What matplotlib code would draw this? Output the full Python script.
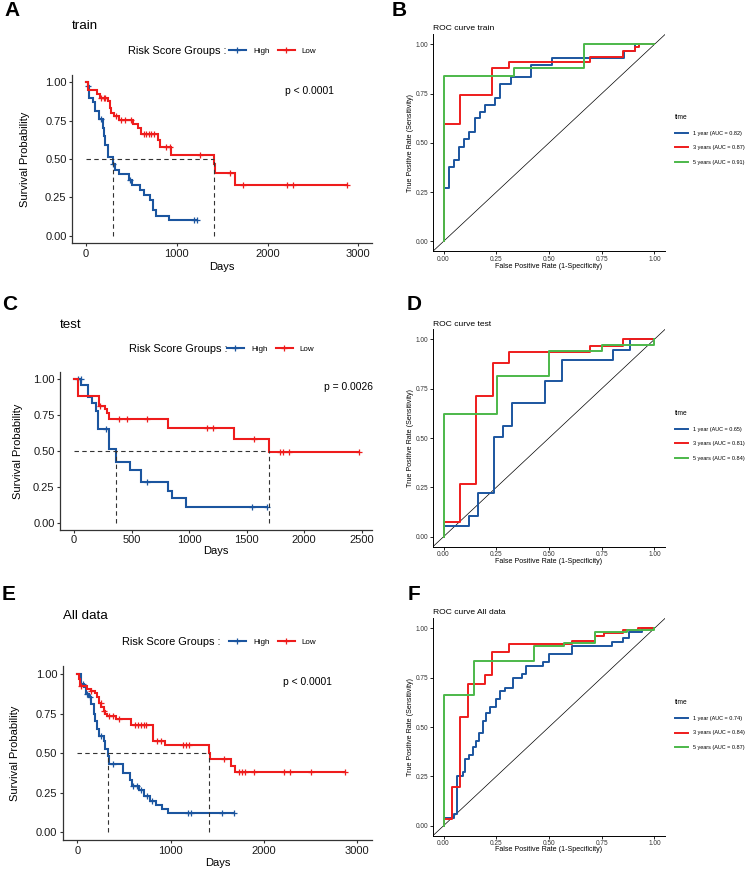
import numpy as np
import matplotlib
matplotlib.use("Agg")
import matplotlib.pyplot as plt
from matplotlib.lines import Line2D

plt.rcParams['font.family'] = ['Liberation Sans', 'DejaVu Sans']

W, H = 749, 872
BLUE = '#1b559f'
RED = '#ee1c1c'
GREEN = '#4cb84a'

# ---------------- KM data (time in days, survival after each step) ----------------
# train
train_high_t = [0, 20, 30, 75, 100, 140, 185, 195, 215, 240, 297, 320, 360, 470, 510, 590, 640, 700, 740, 775, 911]
train_high_s = [1.0, 0.975, 0.90, 0.87, 0.815, 0.76, 0.70, 0.65, 0.59, 0.51, 0.47, 0.43, 0.40, 0.363, 0.33, 0.30, 0.265, 0.23, 0.165, 0.13, 0.10]
train_high_end = 1223
train_high_cens = [25, 170, 300, 480, 1190, 1223]

train_low_t = [0, 22, 121, 150, 242, 260, 279, 305, 360, 514, 573, 606, 793, 819, 940, 1406, 1425, 1638]
train_low_s = [1.0, 0.952, 0.925, 0.90, 0.875, 0.83, 0.80, 0.78, 0.755, 0.725, 0.70, 0.66, 0.625, 0.575, 0.524, 0.47, 0.41, 0.33]
train_low_end = 2875
train_low_cens = [170, 200, 215, 330, 389, 433, 500, 635, 661, 690, 720, 745, 885, 922, 1252, 1590, 1730, 2214, 2277, 2875]

# test
test_high_t = [0, 60, 120, 160, 190, 210, 300, 365, 490, 580, 820, 850, 975]
test_high_s = [1.0, 0.958, 0.875, 0.83, 0.78, 0.65, 0.51, 0.42, 0.37, 0.28, 0.22, 0.17, 0.11]
test_high_end = 1674
test_high_cens = [38, 58, 275, 637, 1544, 1674]

test_low_t = [0, 32, 215, 269, 284, 307, 820, 1390, 1692]
test_low_s = [1.0, 0.885, 0.81, 0.79, 0.765, 0.72, 0.66, 0.585, 0.49]
test_low_end = 2480
test_low_cens = [230, 394, 458, 637, 1153, 1211, 1567, 1790, 1813, 1871, 2480]

# all data
all_high_t = [0, 43, 68, 93, 122, 150, 175, 193, 211, 236, 283, 300, 329, 345, 486, 568, 590, 660, 720, 780, 840, 910, 975]
all_high_s = [1.0, 0.94, 0.92, 0.875, 0.854, 0.81, 0.75, 0.707, 0.654, 0.611, 0.58, 0.527, 0.48, 0.432, 0.375, 0.33, 0.29, 0.265, 0.23, 0.20, 0.17, 0.145, 0.124]
all_high_end = 1680
all_high_cens = [60, 100, 140, 250, 380, 600, 640, 680, 750, 800, 1190, 1220, 1550, 1680]

all_low_t = [0, 15, 25, 104, 150, 193, 211, 229, 258, 283, 293, 318, 410, 580, 810, 945, 1407, 1425, 1650, 1693]
all_low_s = [1.0, 0.97, 0.925, 0.907, 0.895, 0.88, 0.854, 0.816, 0.795, 0.77, 0.75, 0.735, 0.72, 0.68, 0.58, 0.555, 0.50, 0.463, 0.42, 0.38]
all_low_end = 2872
all_low_cens = [40, 150, 250, 290, 340, 380, 450, 620, 650, 680, 710, 740, 850, 900, 1130, 1160, 1200,
                1570, 1730, 1760, 1800, 1890, 2220, 2280, 2500, 2872]

# ---------------- ROC data (FPR, TPR corners) ----------------
roc_train_1y_fpr = [0, 0, 0.026, 0.05, 0.074, 0.098, 0.121, 0.148, 0.172, 0.196, 0.244, 0.267, 0.318, 0.415, 0.513, 0.855, 0.907, 1.0]
roc_train_1y_tpr = [0, 0.27, 0.376, 0.413, 0.48, 0.519, 0.556, 0.624, 0.658, 0.694, 0.726, 0.798, 0.832, 0.897, 0.93, 0.965, 1.0, 1.0]
roc_train_3y_fpr = [0, 0, 0.077, 0.231, 0.312, 0.696, 0.852, 0.91, 0.926, 1.0]
roc_train_3y_tpr = [0, 0.595, 0.744, 0.88, 0.908, 0.934, 0.964, 0.988, 1.0, 1.0]
roc_train_5y_fpr = [0, 0, 0.333, 0.667, 1.0]
roc_train_5y_tpr = [0, 0.84, 0.88, 1.0, 1.0]

roc_test_1y_fpr = [0, 0, 0.121, 0.161, 0.24, 0.283, 0.323, 0.482, 0.561, 0.804, 0.883, 1.0]
roc_test_1y_tpr = [0, 0.052, 0.106, 0.221, 0.503, 0.559, 0.677, 0.79, 0.895, 0.947, 1.0, 1.0]
roc_test_3y_fpr = [0, 0, 0.077, 0.153, 0.233, 0.312, 0.696, 0.852, 1.0]
roc_test_3y_tpr = [0, 0.073, 0.267, 0.714, 0.878, 0.937, 0.968, 1.0, 1.0]
roc_test_5y_fpr = [0, 0, 0.252, 0.502, 0.752, 1.0, 1.0]
roc_test_5y_tpr = [0, 0.621, 0.816, 0.942, 0.971, 0.971, 1.0]

roc_all_1y_fpr = [0, 0, 0.05, 0.065, 0.09, 0.10, 0.12, 0.14, 0.155, 0.17, 0.185, 0.20, 0.22, 0.25, 0.27, 0.29,
                  0.33, 0.37, 0.39, 0.47, 0.50, 0.61, 0.80, 0.85, 0.88, 0.94, 1.0]
roc_all_1y_tpr = [0, 0.04, 0.06, 0.25, 0.27, 0.34, 0.36, 0.40, 0.43, 0.47, 0.53, 0.57, 0.60, 0.64, 0.68, 0.70,
                  0.75, 0.77, 0.81, 0.83, 0.87, 0.91, 0.93, 0.95, 0.98, 1.0, 1.0]
roc_all_3y_fpr = [0, 0, 0.039, 0.079, 0.118, 0.197, 0.232, 0.308, 0.61, 0.72, 0.76, 0.85, 0.92, 1.0]
roc_all_3y_tpr = [0, 0.034, 0.194, 0.552, 0.718, 0.764, 0.882, 0.921, 0.935, 0.962, 0.975, 0.99, 1.0, 1.0]
roc_all_5y_fpr = [0, 0, 0.144, 0.431, 0.572, 0.72, 0.87, 1.0]
roc_all_5y_tpr = [0, 0.66, 0.832, 0.909, 0.925, 0.981, 0.99, 1.0]

auc_train = ['0.82', '0.87', '0.91']
auc_test = ['0.65', '0.81', '0.84']
auc_all = ['0.74', '0.84', '0.87']
year_labels = ['1 year', '3 years', '5 years']


def fx(x):
    return x / W


def fy(y):
    return 1 - y / H


def px_rect(l, t, r, b):
    return [l / W, 1 - b / H, (r - l) / W, (b - t) / H]


def surv_at(t, s, times):
    idx = np.searchsorted(np.asarray(t), np.asarray(times), side='right') - 1
    return np.asarray(s)[idx]


def median_time(t, s):
    idx = np.where(np.asarray(s) <= 0.5)[0]
    return t[idx[0]] if len(idx) else None


def km_panel(fig, rect, xlim, xticks, groups, info):
    ax = fig.add_axes(rect)
    meds = []
    for t, s, end, cens, col in groups:
        tt = list(t) + [end]
        ss = list(s) + [s[-1]]
        ax.plot(tt, ss, drawstyle='steps-post', color=col, lw=1.5, solid_joinstyle='miter')
        ax.plot(cens, surv_at(t, s, cens), ls='none', marker='+', ms=4.2, mew=0.9, color=col)
        m = median_time(t, s)
        if m is not None:
            meds.append(m)
    # median lines
    ax.plot([0, max(meds)], [0.5, 0.5], ls=(0, (4, 3)), color='#333333', lw=0.8)
    for m in meds:
        ax.plot([m, m], [0, 0.5], ls=(0, (4, 3)), color='#333333', lw=0.8)
    ax.set_xlim(*xlim)
    ax.set_ylim(-0.05, 1.05)
    ax.set_xticks(xticks)
    ax.set_yticks([0, 0.25, 0.5, 0.75, 1.0])
    ax.set_yticklabels(['0.00', '0.25', '0.50', '0.75', '1.00'])
    for sp in ['top', 'right']:
        ax.spines[sp].set_visible(False)
    for sp in ['left', 'bottom']:
        ax.spines[sp].set_linewidth(0.9)
        ax.spines[sp].set_color('#333333')
    ax.tick_params(axis='both', labelsize=8, length=2.4, width=0.8, color='#333333',
                   labelcolor='#1a1a1a', pad=1.5)

    # text
    l, t_, r, b = info['box']
    fig.text(fx(info['letter_xy'][0]), fy(info['letter_xy'][1]), info['letter'],
             fontsize=15, fontweight='bold', ha='left', va='baseline')
    fig.text(fx(l), fy(info['title_y']), info['title'], fontsize=9.6, ha='left', va='baseline')
    fig.text(fx((l + r) / 2), fy(info['xlab_y']), 'Days', fontsize=8, ha='center', va='center')
    fig.text(fx(info['ylab_x']), fy((t_ + b) / 2), 'Survival Probability', fontsize=8,
             ha='center', va='center', rotation=90)
    fig.text(fx(info['p_xy'][0]), fy(info['p_xy'][1]), info['p'], fontsize=7.4, ha='left', va='center')

    # legend
    ly = info['leg_y']
    fig.text(fx(info['leg_x']), fy(ly), 'Risk Score Groups :', fontsize=7.9, ha='left', va='center')
    handles = [Line2D([], [], color=BLUE, lw=1.5, marker='+', ms=4.2, mew=0.9),
               Line2D([], [], color=RED, lw=1.5, marker='+', ms=4.2, mew=0.9)]
    ax.legend(handles, ['High', 'Low'], ncol=2, frameon=False, fontsize=5.8,
              loc='center left', bbox_to_anchor=(fx(info['leg_x2']), fy(ly)),
              bbox_transform=fig.transFigure, handlelength=2.1, handletextpad=0.9,
              columnspacing=1.0, borderpad=0, borderaxespad=0)
    return ax


def roc_panel(fig, rect, curves, aucs, info):
    ax = fig.add_axes(rect)
    ax.axline((0, 0), (1, 1), color='black', lw=0.5)
    cols = [BLUE, RED, GREEN]
    handles = []
    for (fpr, tpr), col in zip(curves, cols):
        ln, = ax.plot(fpr, tpr, drawstyle='steps-post', color=col, lw=1.4)
        handles.append(Line2D([], [], color=col, lw=1.4))
    ax.set_xlim(-0.05, 1.05)
    ax.set_ylim(-0.05, 1.05)
    ticks = [0, 0.25, 0.5, 0.75, 1.0]
    labels = ['0.00', '0.25', '0.50', '0.75', '1.00']
    ax.set_xticks(ticks)
    ax.set_xticklabels(labels)
    ax.set_yticks(ticks)
    ax.set_yticklabels(labels)
    for sp in ['top', 'right']:
        ax.spines[sp].set_visible(False)
    for sp in ['left', 'bottom']:
        ax.spines[sp].set_linewidth(0.7)
    ax.tick_params(axis='both', labelsize=4.7, length=2, width=0.6, labelcolor='#333333', pad=1.2)

    l, t_, r, b = info['box']
    fig.text(fx(info['letter_xy'][0]), fy(info['letter_xy'][1]), info['letter'],
             fontsize=15, fontweight='bold', ha='left', va='baseline')
    fig.text(fx(l), fy(info['title_y']), info['title'], fontsize=6.1, ha='left', va='baseline')
    fig.text(fx(549), fy(info['xlab_y']), 'False Positive Rate (1-Specificity)', fontsize=5.1,
             ha='center', va='center')
    fig.text(fx(411), fy((t_ + b) / 2), 'True Positive Rate (Sensitivity)', fontsize=5.1,
             ha='center', va='center', rotation=90)

    labs = [f'{y} (AUC = {a})' for y, a in zip(year_labels, aucs)]
    leg = ax.legend(handles, labs, title='time', frameon=False, fontsize=4.0, title_fontsize=4.8,
                    loc='upper left', bbox_to_anchor=(fx(675), fy(info['leg_top'])),
                    bbox_transform=fig.transFigure, handlelength=2.4, handletextpad=0.9,
                    labelspacing=1.75, borderpad=0, borderaxespad=0, alignment='left')
    return ax


fig = plt.figure(figsize=(W / 100, H / 100), dpi=100)

km_panel(fig, px_rect(72, 74.6, 372, 243.4), (-154, 3151), [0, 1000, 2000, 3000],
         [(train_high_t, train_high_s, train_high_end, train_high_cens, BLUE),
          (train_low_t, train_low_s, train_low_end, train_low_cens, RED)],
         dict(box=(72, 74.6, 372, 243.4), letter='A', letter_xy=(4, 16.5), title='train', title_y=29.3,
              xlab_y=266.7, ylab_x=25, p='p < 0.0001', p_xy=(285, 90.7),
              leg_y=50.7, leg_x=128, leg_x2=229))

km_panel(fig, px_rect(60, 371.8, 372, 529.9), (-121.7, 2589.5), [0, 500, 1000, 1500, 2000, 2500],
         [(test_high_t, test_high_s, test_high_end, test_high_cens, BLUE),
          (test_low_t, test_low_s, test_low_end, test_low_cens, RED)],
         dict(box=(60, 371.8, 372, 529.9), letter='C', letter_xy=(2, 310.5), title='test', title_y=328.3,
              xlab_y=551, ylab_x=18.3, p='p = 0.0026', p_xy=(324, 387.3),
              leg_y=349.3, leg_x=129, leg_x2=227))

km_panel(fig, px_rect(62.7, 666.4, 372, 840.2), (-156.4, 3157.6), [0, 1000, 2000, 3000],
         [(all_high_t, all_high_s, all_high_end, all_high_cens, BLUE),
          (all_low_t, all_low_s, all_low_end, all_low_cens, RED)],
         dict(box=(62.7, 666.4, 372, 840.2), letter='E', letter_xy=(2, 600), title='All data', title_y=619,
              xlab_y=863.3, ylab_x=14.7, p='p < 0.0001', p_xy=(283.3, 681.7),
              leg_y=641.7, leg_x=122, leg_x2=229))

roc_panel(fig, px_rect(433, 34.5, 665, 251.2),
          [(roc_train_1y_fpr, roc_train_1y_tpr), (roc_train_3y_fpr, roc_train_3y_tpr),
           (roc_train_5y_fpr, roc_train_5y_tpr)], auc_train,
          dict(box=(433, 34.5, 665, 251.2), letter='B', letter_xy=(391.7, 16.5), title='ROC curve train',
               title_y=30, xlab_y=266.7, leg_top=114))

roc_panel(fig, px_rect(433, 329.4, 665, 546.6),
          [(roc_test_1y_fpr, roc_test_1y_tpr), (roc_test_3y_fpr, roc_test_3y_tpr),
           (roc_test_5y_fpr, roc_test_5y_tpr)], auc_test,
          dict(box=(433, 329.4, 665, 546.6), letter='D', letter_xy=(406.7, 310.5), title='ROC curve test',
               title_y=325.7, xlab_y=561.7, leg_top=410))

roc_panel(fig, px_rect(433, 618.4, 665, 835.6),
          [(roc_all_1y_fpr, roc_all_1y_tpr), (roc_all_3y_fpr, roc_all_3y_tpr),
           (roc_all_5y_fpr, roc_all_5y_tpr)], auc_all,
          dict(box=(433, 618.4, 665, 835.6), letter='F', letter_xy=(408, 600.5), title='ROC curve All data',
               title_y=614, xlab_y=849.3, leg_top=699))

fig.savefig('out.png', dpi=100)
